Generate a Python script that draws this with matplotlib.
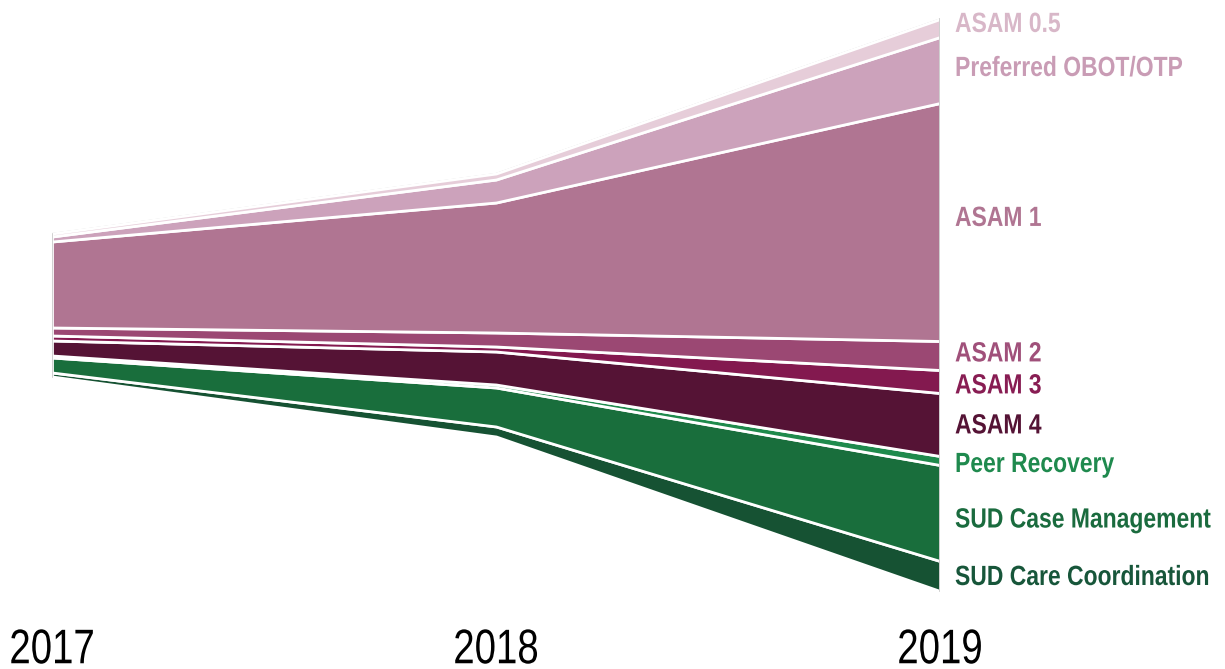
import numpy as np
import matplotlib.pyplot as plt
from matplotlib.patheffects import AbstractPathEffect
from matplotlib.transforms import Affine2D

# years and layers (top to bottom)
years = [2017, 2018, 2019]
layers = ["ASAM 0.5", "Preferred OBOT/OTP", "ASAM 1", "ASAM 2", "ASAM 3",
          "ASAM 4", "Peer Recovery", "SUD Case Management", "SUD Care Coordination"]
asam_05 = [3, 6, 18]
preferred = [5, 23, 66]
asam_1 = [86, 130, 238]
asam_2 = [8, 14, 29]
asam_3 = [5, 5, 23]
asam_4 = [15, 33, 63]
peer = [2, 3, 9]
case_mgmt = [15, 39, 96]
care_coord = [4, 10, 30]

fill_colors = ["#e6cdd9", "#cca2bb", "#b07592", "#9b4873", "#83194f",
               "#551335", "#1f8a4c", "#196e3c", "#165233"]
text_colors = ["#d8b7c8", "#c99cb5", "#b07592", "#a0507a", "#881d53",
               "#551335", "#1f8a4e", "#1a6b3e", "#17563a"]
# small vertical nudges (px) so labels do not collide
label_nudge = [4, 2, 4, 2, -4, -1, -4, -7, -1]


class Squeeze(AbstractPathEffect):
    # reshape the glyphs (no condensed Arial available)
    def __init__(self, sx, sy=1.0, anchor="left"):
        super().__init__()
        self.sx = sx
        self.sy = sy
        self.anchor = anchor

    def draw_path(self, renderer, gc, tpath, affine, rgbFace=None):
        ext = tpath.get_extents()
        cx = ext.x0 if self.anchor == "left" else (ext.x0 + ext.x1) / 2
        cy = (ext.y0 + ext.y1) / 2
        t = Affine2D().translate(-cx, -cy).scale(self.sx, self.sy).translate(cx, cy) + affine
        renderer.draw_path(gc, tpath, t, rgbFace)


W, H = 1225, 669
fig = plt.figure(figsize=(W / 100, H / 100), dpi=100)
x0, x1 = 52, 940
ax = fig.add_axes([x0 / W, 0, (x1 - x0) / W, 1])
ax.set_xlim(years[0], years[-1])
center = 305
ax.set_ylim(center - H, center)
ax.axis("off")

# matplotlib stacks bottom-up, so reverse the list
series = [asam_05, preferred, asam_1, asam_2, asam_3, asam_4, peer, case_mgmt, care_coord]
stack = np.array(series[::-1], dtype=float)
polys = ax.stackplot(years, stack, baseline="sym", colors=fill_colors[::-1],
                     edgecolor="white", linewidth=2)

total = stack.sum(axis=0)
top = total / 2
bottom = -total / 2
ax.plot(years, top, color="#c8c8c8", lw=0.8, zorder=0)
ax.plot(years, bottom, color="#c8c8c8", lw=0.8, zorder=0)
for i in [0, -1]:
    ax.plot([years[i], years[i]], [bottom[i], top[i]], color="#c8c8c8", lw=1.2, zorder=3)

# labels at the 2019 edge, centred on each band
cum = top[-1]
for name, vals, col, nud in zip(layers, series, text_colors, label_nudge):
    mid = cum - vals[-1] / 2
    cum -= vals[-1]
    ax.annotate(name, xy=(years[-1], mid + nud), xytext=(15, 0),
                textcoords="offset pixels", ha="left", va="center",
                fontsize=17, fontweight="bold", color=col,
                family="Liberation Sans", annotation_clip=False,
                path_effects=[Squeeze(0.97, 20 / 17, "left")])

# year labels (drawn at 24pt, stretched to look like ~35pt condensed)
for yr in years:
    ax.annotate(str(yr), xy=(yr, center - 658), ha="center", va="baseline",
                fontsize=24, color="black", family="Liberation Sans",
                annotation_clip=False,
                path_effects=[Squeeze(0.79 * 35 / 24, 35 / 24, "center")])

fig.savefig("out.png", dpi=100)
